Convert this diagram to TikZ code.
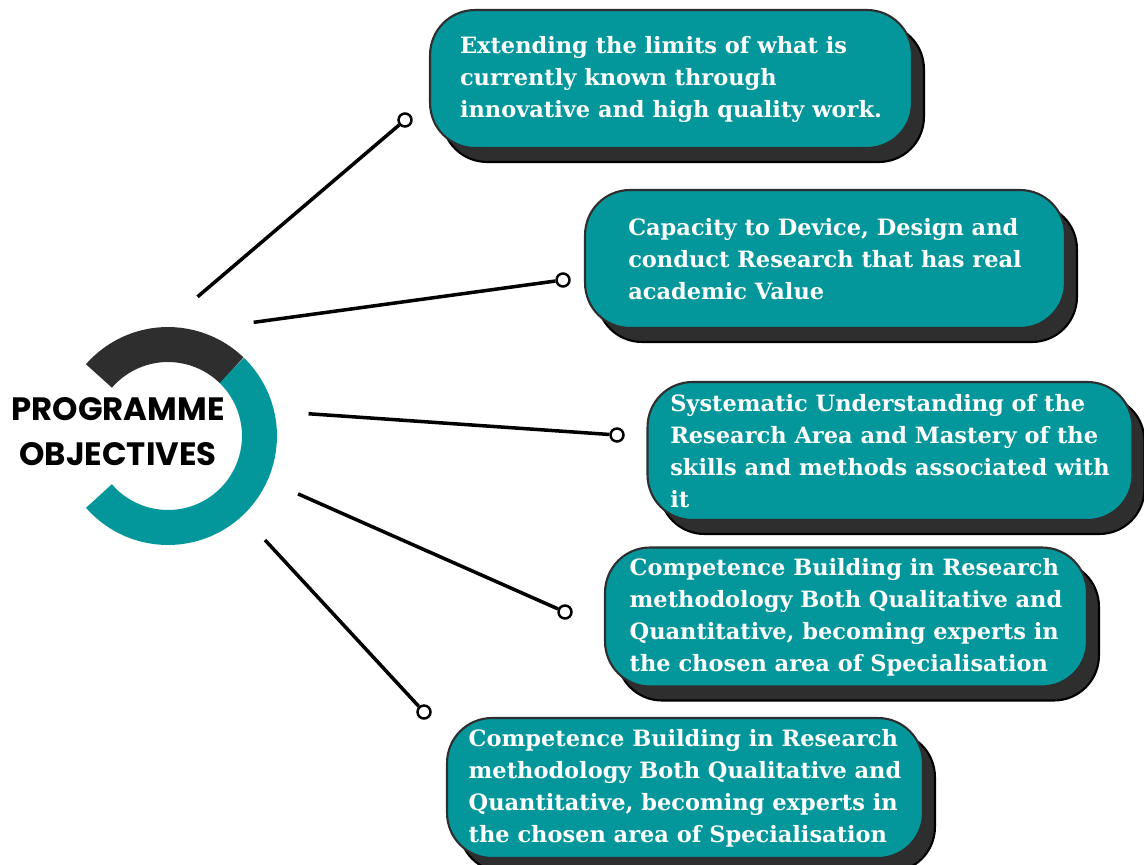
\documentclass[tikz,border=0pt]{standalone}
\usepackage{fontspec}
\newfontfamily\boxfont{DejaVu Serif}
\newfontfamily\titlefont{Poppins}
\usetikzlibrary{shadows}
\definecolor{objteal}{RGB}{3,151,155}
\definecolor{objdark}{RGB}{46,46,46}
\tikzset{
  objbox/.style={draw=objdark, line width=1.2pt, fill=objteal, rounded corners=0.9cm,
    text=white, font=\boxfont\bfseries\fontsize{12.8}{18.2}\selectfont, align=left, inner sep=0pt,
    general shadow={shadow xshift=0.24cm, shadow yshift=-0.28cm, fill=objdark, draw=black}},
  dot/.style={circle, draw=black, fill=white, line width=1.4pt, minimum size=0.26cm, inner sep=0pt},
  link/.style={line width=2pt, black},
}
\begin{document}
\begin{tikzpicture}[x=0.02cm, y=-0.02cm]
	\useasboundingbox (0,0) rectangle (1144,865);

            % ring round the title
            \node[circle, minimum size=5.68cm, inner sep=0pt] (ring) at (168,436) {};
            \draw[objteal, line width=0.7cm] (ring.center) ++(-139:1.83cm) arc[start angle=-139, end angle=46, radius=1.83cm];
            \draw[objdark, line width=0.7cm] (ring.center) ++(46:1.83cm) arc[start angle=46, end angle=139, radius=1.83cm];
            \node[font=\titlefont\bfseries\fontsize{18.4}{25.6}\selectfont, align=center] (title) at (118,432) {PROGRAMME\\OBJECTIVES};

            % objective boxes
            \node[objbox, minimum width=9.64cm, minimum height=2.76cm] (b1) at (671,79)
              {Extending the limits of what is\\currently known through\\innovative and high quality work.};
            \node[objbox, minimum width=9.6cm, minimum height=2.76cm] (b2) at (825,259)
              {Capacity to Device, Design and\\conduct Research that has real\\academic Value};
            \node[objbox, minimum width=9.7cm, minimum height=2.76cm] (b3) at (890,451)
              {Systematic Understanding of the\\Research Area and Mastery of the\\skills and methods associated with\\it};
            \node[objbox, minimum width=9.64cm, minimum height=2.78cm] (b4) at (846,617)
              {Competence Building in Research\\methodology Both Qualitative and\\Quantitative, becoming experts in\\the chosen area of Specialisation};
            \node[objbox, minimum width=9.52cm, minimum height=2.8cm] (b5) at (685,788)
              {Competence Building in Research\\methodology Both Qualitative and\\Quantitative, becoming experts in\\the chosen area of Specialisation};

            % end dots
            \node[dot] (d1) at (405,120) {};
            \node[dot] (d2) at (563,280) {};
            \node[dot] (d3) at (617,435) {};
            \node[dot] (d4) at (565,612) {};
            \node[dot] (d5) at (424,712) {};

            \foreach \i/\a in {1/78,2/53,3/9,4/-24,5/-47}{
              \draw[link] (ring.\a) -- (d\i);
            }
        \end{tikzpicture}
\end{document}
